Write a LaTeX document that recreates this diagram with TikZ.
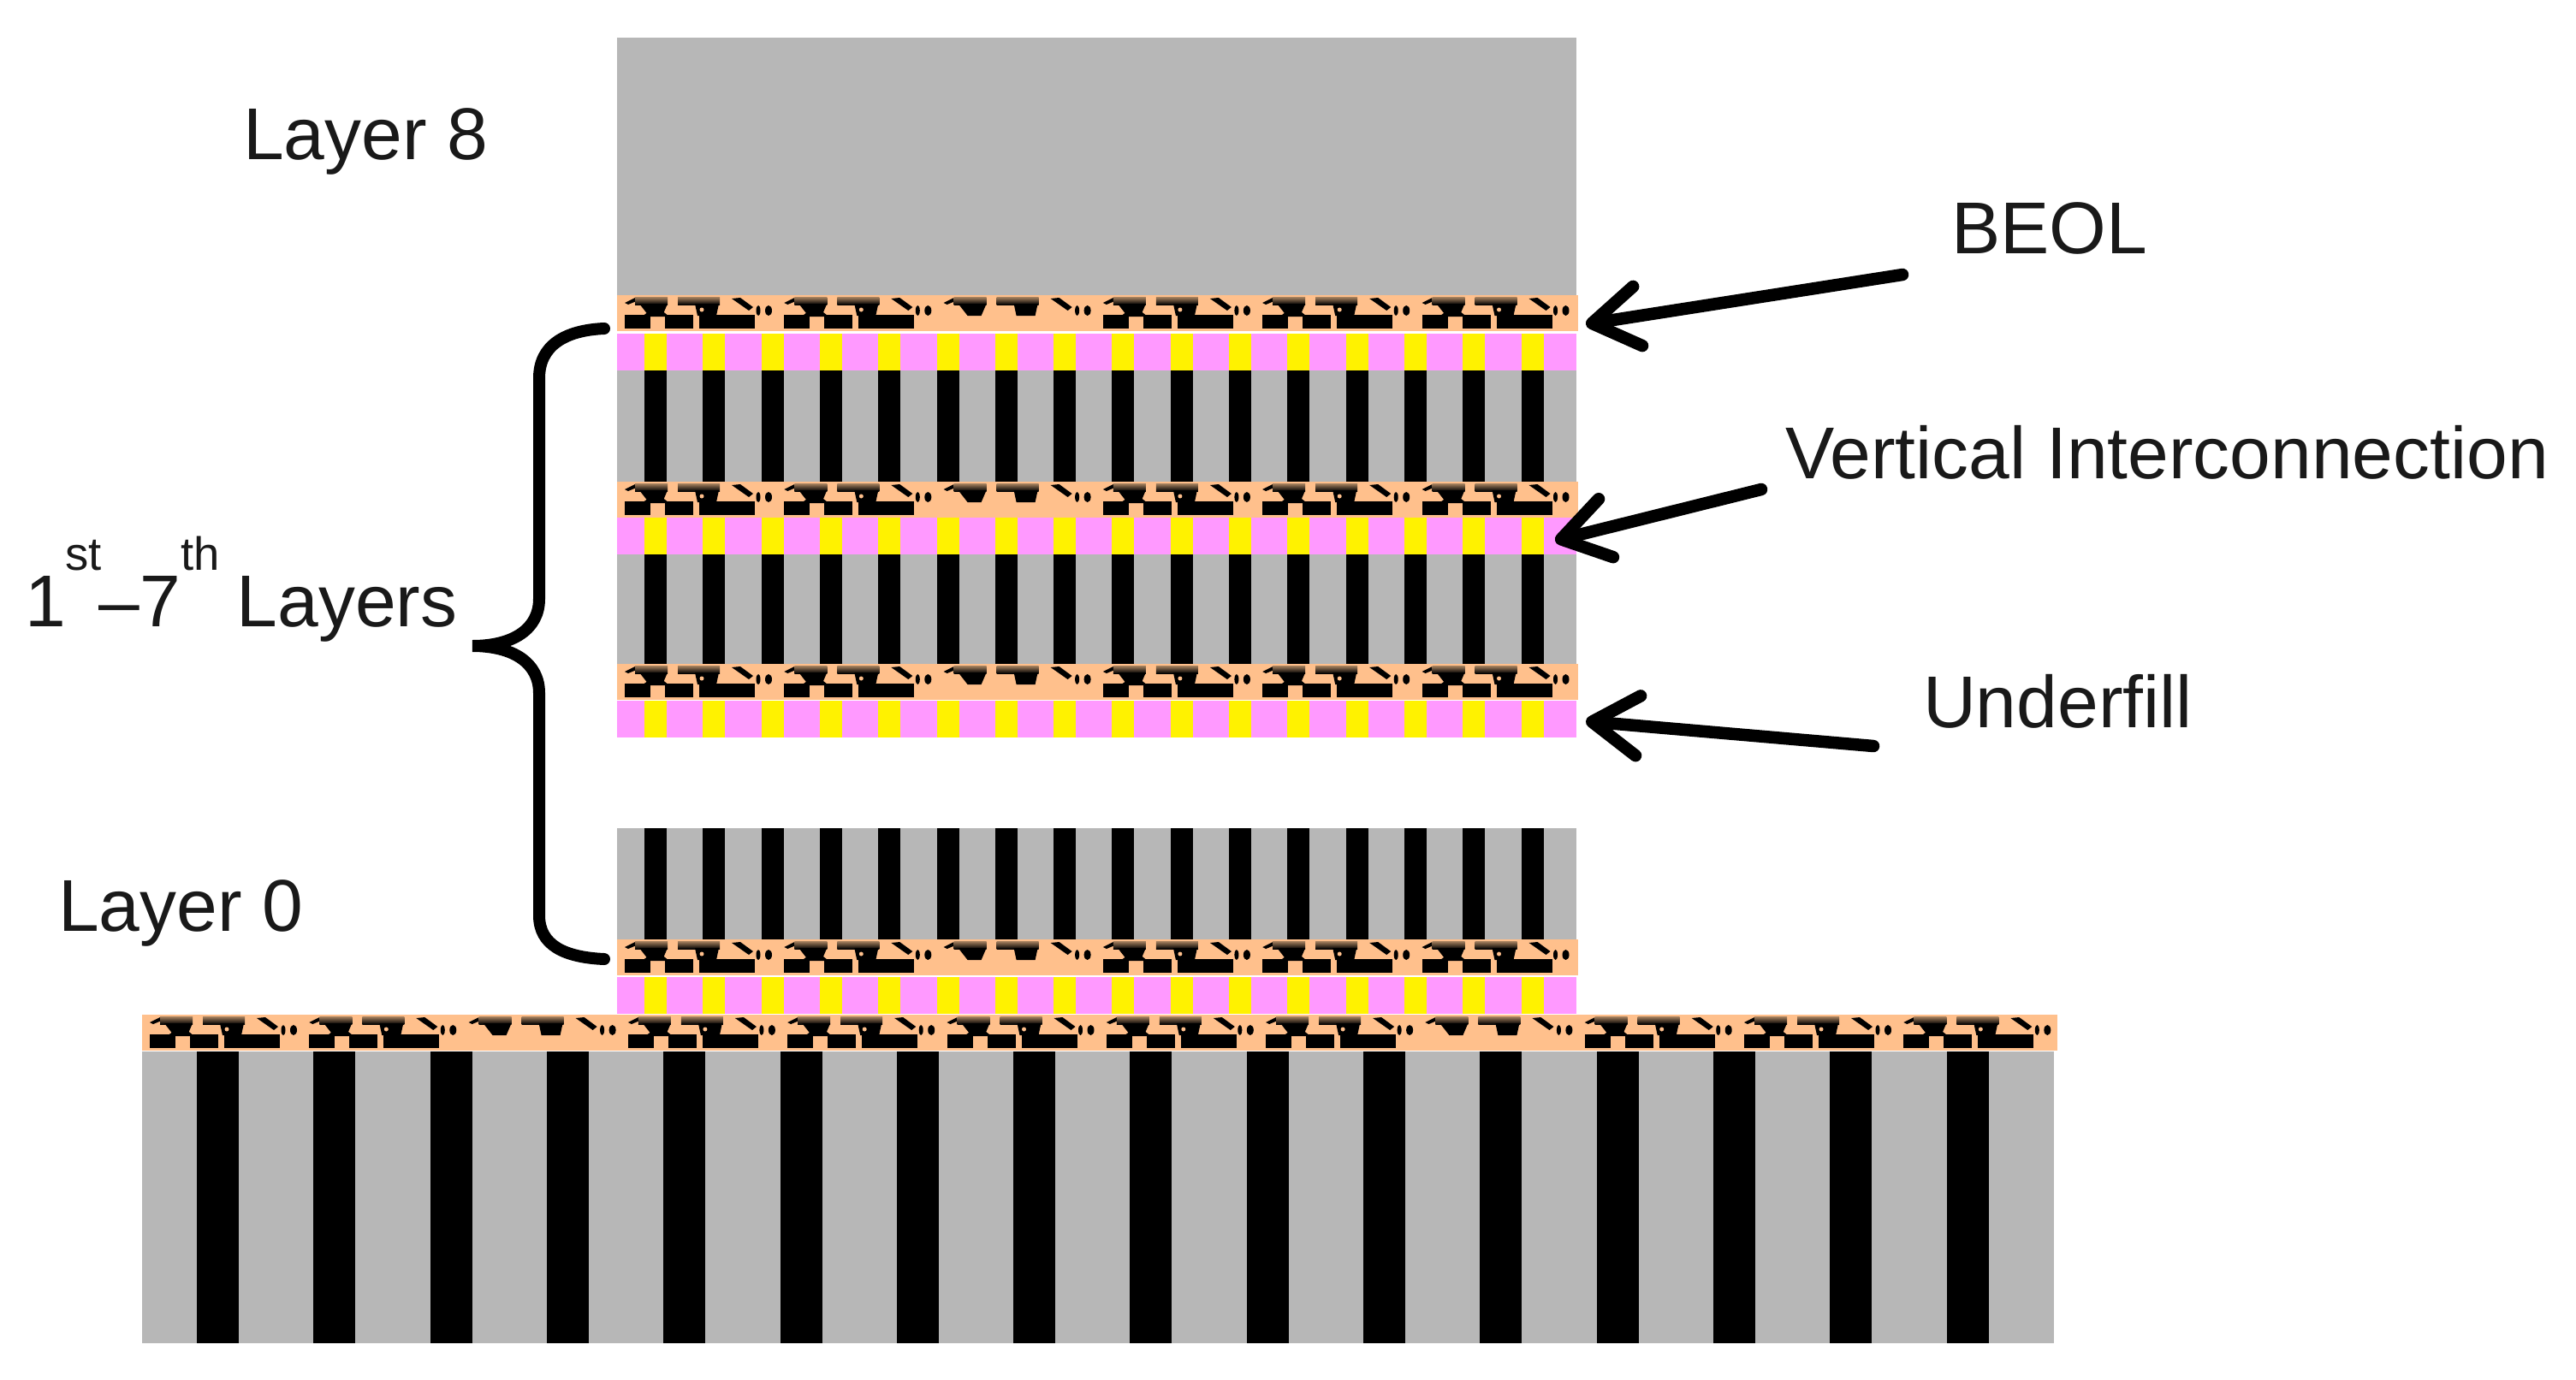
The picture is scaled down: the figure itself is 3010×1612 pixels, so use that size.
\documentclass[tikz,border=0pt]{standalone}
\usepackage{fontspec}
\setmainfont{Liberation Sans}
\usetikzlibrary{arrows.meta}
\definecolor{diegray}{HTML}{B7B7B7}
\definecolor{beolpeach}{HTML}{FFC08C}
\definecolor{fillpink}{HTML}{FF99FF}
\definecolor{combbrown}{HTML}{A98360}
\tikzset{
	x=0.01cm,
	y=-0.01cm,
	every node/.style={inner sep=0pt, outer sep=0pt},
	layertext/.style={anchor=base west, font=\fontsize{24.4}{28}\selectfont, text=black!90},
	pointer/.style={line width=1.45mm, line cap=round, -{Straight Barb[round, length=5.4mm, width=7mm]}},
	bracket/.style={line width=1.4mm, line cap=round},
	comb/.style={top color=combbrown, bottom color=black, draw=none},
}
\newcommand{\upstr}[1]{\raisebox{18.5pt}{\fontsize{15.5}{18}\selectfont #1}}
% upper wiring of one beol cell
\newcommand{\beoltop}{
	\fill[black] (2,9) -- (14,3) -- (18,6) -- (6,11) -- cycle;
	\shade[comb] (14,2) rectangle (52,11);
	\shade[comb] (64,2) rectangle (113,11);
	\fill[black] (19,10) -- (52,10) -- (46,24) -- (30,24) -- cycle;
	\fill[black] (84,10) -- (112,10) -- (109,24) -- (87,24) -- cycle;
	\fill[black] (127,4) -- (137,3) -- (152,14) -- (147,18) -- cycle;
	\fill[black] (158,18) ellipse (2.5 and 6);
	\fill[black] (170,18) ellipse (4 and 6);
}
% lower row, missing in the sparse cells
\newcommand{\beolfoot}{
	\fill[black] (33,17) -- (44,17) -- (54,25) -- (22,25) -- cycle;
	\fill[black] (2,23) rectangle (32,39);
	\fill[black] (49,23) rectangle (82,39);
	\fill[black] (89,23) rectangle (154,39);
	\fill[beolpeach] (92,17) circle (2.5);
}
\newcommand{\beolstrip}[4]{
	\fill[beolpeach] (#1,#2) rectangle (#3,#2+42);
	\foreach \cell in {0,...,#4} {
		\begin{scope}[shift={(#1+7+186.3*\cell,#2)}]
			\beoltop
			\pgfmathtruncatemacro{\sparse}{mod(\cell,6)==2 ? 1 : 0}
			\ifnum\sparse=0 \beolfoot\fi
		\end{scope}
	}
}
\newcommand{\bumprow}[1]{
	\fill[fillpink] (721,#1) rectangle (1842,#1+43);
	\foreach \i in {0,...,15} {
		\fill[yellow] (753+68.3*\i,#1) rectangle ++(26,43);
	}
}
\newcommand{\dierow}[2]{
	\fill[diegray] (721,#1) rectangle (1842,#2);
	\foreach \i in {0,...,15} {
		\fill[black] (753+68.3*\i,#1) rectangle (779+68.3*\i,#2);
	}
}
\begin{document}
\begin{tikzpicture}
	\useasboundingbox (0,0) rectangle (3010,1612);

	% top die
	\fill[diegray] (721,44) rectangle (1842,345);
	\beolstrip{721}{345}{1844}{5}
	\bumprow{390}
	\dierow{433}{564}
	\beolstrip{721}{563}{1844}{5}
	\bumprow{605}
	\dierow{648}{777}
	\beolstrip{721}{776}{1844}{5}
	\bumprow{819}
	\dierow{968}{1099}
	\beolstrip{721}{1098}{1844}{5}
	\bumprow{1142}

	% substrate
	\fill[diegray] (166,1229) rectangle (2400,1570);
	\foreach \i in {0,...,15} {
		\fill[black] (230+136.3*\i,1229) rectangle (279+136.3*\i,1570);
	}
	\beolstrip{166}{1186}{2404}{11}

	\node[layertext] (layereight) at (284,186) {Layer 8};
	\node[layertext] (layerzero) at (68,1088) {Layer 0};
	\node[layertext] (middle) at (29,732) {1\upstr{st}\hspace{-1pt}--7\upstr{th}\hspace{-1pt} Layers};
	\node[layertext] (beol) at (2280,296) {BEOL};
	\node[layertext] (vertical) at (2086,559) {Vertical Interconnection};
	\node[layertext] (underfill) at (2247,850) {Underfill};

	\coordinate (beoltail) at (2223,321);
	\coordinate (beoltip) at (1853,379);
	\coordinate (verticaltail) at (2058,572);
	\coordinate (verticaltip) at (1817,632);
	\coordinate (underfilltail) at (2189,872);
	\coordinate (underfilltip) at (1853,843);
	\draw[pointer] (beoltail) -- (beoltip);
	\draw[pointer] (verticaltail) -- (verticaltip);
	\draw[pointer] (underfilltail) -- (underfilltip);

	\draw[bracket] (706,384) .. controls (660,386) and (630,404) .. (630,442)
		-- (630,700) .. controls (630,735) and (600,755) .. (552,755)
		.. controls (600,755) and (630,775) .. (630,810)
		-- (630,1070) .. controls (630,1105) and (660,1119) .. (706,1121);
\end{tikzpicture}
\end{document}
